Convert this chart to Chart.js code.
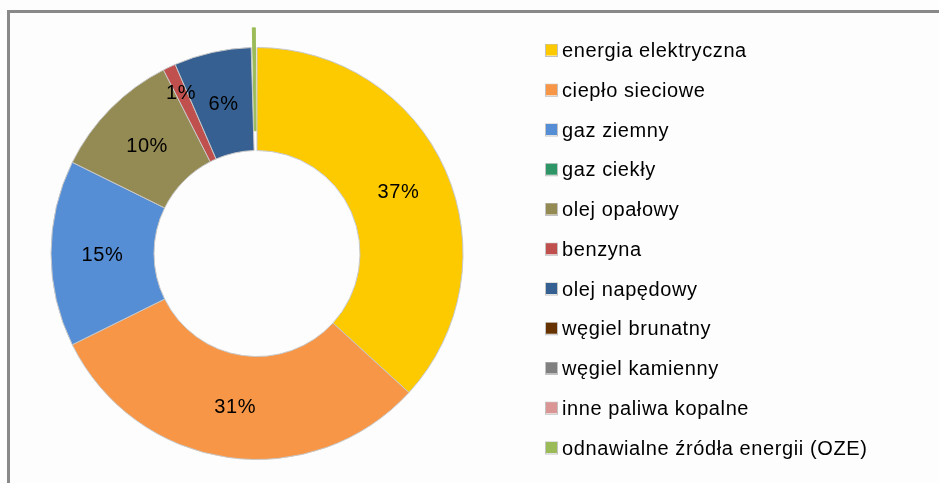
<!DOCTYPE html>
<html>
<head>
<meta charset="utf-8">
<script src="https://cdn.jsdelivr.net/npm/chart.js@4"></script>
<style>
  html, body { margin: 0; padding: 0; background: #fdfdfd; }
  #wrap { position: relative; width: 939px; height: 483px; }
  #frame { position: absolute; left: 7px; top: 10px; right: 0; bottom: 0;
           border-top: 3px solid #898989; border-left: 3px solid #898989; }
  canvas { position: absolute; left: 0; top: 0; }
</style>
</head>
<body>
<div id="wrap">
  <div id="frame"></div>
  <canvas id="donut" width="939" height="483"></canvas>
</div>
<script>
let labels = ['energia elektryczna', 'ciepło sieciowe', 'gaz ziemny', 'gaz ciekły', 'olej opałowy',
              'benzyna', 'olej napędowy', 'węgiel brunatny', 'węgiel kamienny', 'inne paliwa kopalne',
              'odnawialne źródła energii (OZE)'];
let shares = [36.8, 30.9, 14.6, 0, 10.2, 1.0, 6.05, 0, 0, 0, 0.45];
let colors = ['#fdca00', '#f79646', '#558ed5', '#2e9566', '#948a54', '#c0504d', '#376092',
              '#663300', '#808080', '#d99694', '#9bbb59'];
let exploded = [0, 0, 0, 0, 0, 0, 0, 0, 0, 0, 40];

const FONT = '"Liberation Sans", Arial, sans-serif';

// percentage labels inside the ring
const sliceLabels = {
    id: 'sliceLabels',
    afterDatasetsDraw(chart) {
        const ctx = chart.ctx;
        const meta = chart.getDatasetMeta(0);
        const total = shares.reduce((a, b) => a + b, 0);
        ctx.save();
        ctx.font = '20px ' + FONT;
        ctx.letterSpacing = '0.6px';
        ctx.fillStyle = '#000';
        ctx.textAlign = 'center';
        ctx.textBaseline = 'middle';
        meta.data.forEach((arc, i) => {
            let pct = Math.round(shares[i] / total * 100);
            if (pct < 1) return;
            let a = (arc.startAngle + arc.endAngle) / 2;
            let r = (arc.innerRadius + arc.outerRadius) / 2;
            if (pct < 2) r += 24; // small slice: push label out a bit
            ctx.fillText(pct + '%', arc.x + Math.cos(a) * r, arc.y + Math.sin(a) * r + 1.5);
        });
        ctx.restore();
    }
};

// legend on the right, drawn by hand
const sideLegend = {
    id: 'sideLegend',
    afterDraw(chart) {
        const ctx = chart.ctx;
        ctx.save();
        ctx.font = '20px ' + FONT;
        ctx.letterSpacing = '0.6px';
        ctx.textBaseline = 'middle';
        labels.forEach((lab, i) => {
            let y = 50.5 + i * 39.75;
            ctx.strokeStyle = 'rgba(180,180,180,0.8)';
            ctx.lineWidth = 1;
            ctx.strokeRect(545.5, y - 6, 12, 12);
            ctx.fillStyle = colors[i];
            ctx.fillRect(546, y - 6, 11, 11);
            ctx.fillStyle = '#000';
            ctx.fillText(lab, 562, y + 1);
        });
        ctx.restore();
    }
};

new Chart(document.getElementById('donut'), {
    type: 'doughnut',
    data: {
        labels: labels,
        datasets: [{
            data: shares,
            backgroundColor: colors,
            borderColor: shares.map((v, i) => v <= 0 ? 'rgba(0,0,0,0)' : (exploded[i] ? colors[i] : '#c8c8c8')),
            borderWidth: 1,
            offset: exploded
        }]
    },
    options: {
        responsive: false,
        animation: false,
        radius: 206,
        cutout: '50%',
        layout: { padding: { left: 0, right: 425, top: 24, bottom: 0 } },
        plugins: {
            legend: { display: false },
            tooltip: { enabled: false }
        }
    },
    plugins: [sliceLabels, sideLegend]
});
</script>
</body>
</html>
